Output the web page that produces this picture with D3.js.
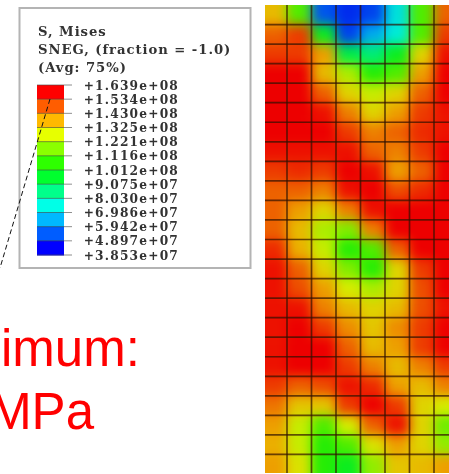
<!DOCTYPE html>
<html>
<head>
<meta charset="utf-8">
<script src="https://cdn.jsdelivr.net/npm/d3@7"></script>
<style>
  html, body { margin: 0; padding: 0; background: #fff; overflow: hidden; }
  svg { display: block; }
</style>
</head>
<body>
<svg id="chart"></svg>
<script>
var width = 449;
var height = 474;

// legend, MPa, top to bottom
var legendTitle = ["S, Mises", "SNEG, (fraction = -1.0)", "(Avg: 75%)"];
var legendLabels = ["+1.639e+08", "+1.534e+08", "+1.430e+08", "+1.325e+08", "+1.221e+08", "+1.116e+08",
  "+1.012e+08", "+9.075e+07", "+8.030e+07", "+6.986e+07", "+5.942e+07", "+4.897e+07", "+3.853e+07"];
var legendColors = ["#ff0000", "#ff5d00", "#ffb900", "#e7ff00", "#8bff00", "#2eff00",
  "#00ff2e", "#00ff8b", "#00ffe7", "#00b9ff", "#005dff", "#0000ff"];
var colorStops = [157, 147, 133, 120, 110, 101, 93, 84, 72, 62, 50, 40];
var annotation = ["imum:", "MPa"];

// stress per mesh element, MPa
var stress = [
  [130, 105, 50, 45, 48, 70, 105, 145],
  [145, 150, 95, 48, 62, 72, 105, 150],
  [150, 150, 135, 90, 85, 95, 125, 155],
  [158, 158, 130, 115, 100, 105, 135, 158],
  [158, 158, 145, 125, 118, 125, 145, 158],
  [160, 160, 155, 140, 125, 135, 150, 155],
  [158, 158, 158, 150, 140, 145, 152, 155],
  [155, 155, 155, 155, 145, 140, 150, 158],
  [150, 152, 150, 158, 155, 135, 145, 158],
  [145, 145, 140, 155, 158, 148, 152, 158],
  [145, 135, 125, 140, 155, 158, 158, 160],
  [145, 130, 115, 110, 140, 158, 160, 160],
  [152, 132, 118, 100, 105, 145, 158, 160],
  [155, 145, 125, 110, 100, 125, 150, 158],
  [155, 148, 135, 120, 115, 125, 148, 158],
  [155, 155, 140, 130, 125, 130, 148, 155],
  [155, 158, 150, 138, 128, 138, 150, 160],
  [155, 158, 158, 145, 130, 135, 150, 158],
  [155, 158, 158, 150, 140, 130, 140, 150],
  [150, 145, 148, 155, 152, 135, 130, 140],
  [142, 128, 128, 150, 158, 150, 125, 120],
  [135, 118, 105, 120, 145, 155, 125, 108],
  [132, 118, 100, 105, 122, 135, 125, 112],
  [135, 122, 100, 95, 112, 128, 130, 135]
];

var svg = d3.select("#chart")
  .attr("width", width)
  .attr("height", height);

var defs = svg.append("defs");

defs.append("filter")
  .attr("id", "smooth")
  .attr("filterUnits", "userSpaceOnUse")
  .attr("x", 200).attr("y", -60).attr("width", 320).attr("height", 600)
  .attr("color-interpolation-filters", "sRGB")
  .append("feGaussianBlur")
  .attr("stdDeviation", 6);

defs.append("filter")
  .attr("id", "soft")
  .attr("x", "-5%").attr("y", "-5%").attr("width", "110%").attr("height", "110%")
  .append("feGaussianBlur")
  .attr("stdDeviation", 0.7);

defs.append("clipPath")
  .attr("id", "meshClip")
  .append("rect")
  .attr("x", 265).attr("y", 5)
  .attr("width", width - 265).attr("height", 468);

// mesh
var meshX = d3.scaleLinear().domain([0, 8]).range([262.5, 458.5]);
var meshY = d3.scaleLinear().domain([0, 24]).range([5, 474]);

var stressColor = d3.scaleLinear()
  .domain(colorStops)
  .range(legendColors)
  .clamp(true);

var mesh = svg.append("g").attr("clip-path", "url(#meshClip)");
var field = mesh.append("g").attr("filter", "url(#smooth)");
var spill = 40; // border cells run past the clip so the blur keeps full colour at the edges

stress.forEach(function(row, r) {
  row.forEach(function(v, c) {
    var x0 = meshX(c) - (c === 0 ? spill : 0);
    var x1 = meshX(c + 1) + (c === row.length - 1 ? spill : 0);
    var y0 = meshY(r) - (r === 0 ? spill : 0);
    var y1 = meshY(r + 1) + (r === stress.length - 1 ? spill : 0);
    field.append("rect")
      .attr("x", x0)
      .attr("y", y0)
      .attr("width", x1 - x0 + 0.5)
      .attr("height", y1 - y0 + 0.5)
      .style("fill", stressColor(v));
  });
});

// the photo is a touch duller than the pure spectrum
mesh.append("rect")
  .attr("x", 265).attr("y", 5)
  .attr("width", width - 265).attr("height", 468)
  .style("fill", "#000")
  .style("fill-opacity", 0.07);

var lines = mesh.append("g")
  .attr("filter", "url(#soft)")
  .style("stroke", "#301000")
  .style("stroke-opacity", 0.7)
  .style("stroke-width", 1.7);

lines.selectAll(".v")
  .data(d3.range(1, 8))
  .enter().append("line")
  .attr("x1", function(d) { return meshX(d); })
  .attr("x2", function(d) { return meshX(d); })
  .attr("y1", meshY(0))
  .attr("y2", meshY(24));

lines.selectAll(".h")
  .data(d3.range(1, 24))
  .enter().append("line")
  .attr("x1", 265)
  .attr("x2", width)
  .attr("y1", function(d) { return meshY(d); })
  .attr("y2", function(d) { return meshY(d); });

// legend
var legend = svg.append("g");

legend.append("rect")
  .attr("x", 19.5)
  .attr("y", 8)
  .attr("width", 231)
  .attr("height", 260)
  .style("fill", "#fff")
  .style("stroke", "#b4b4b4")
  .style("stroke-width", 2);

var soft = legend.append("g").attr("filter", "url(#soft)");

soft.selectAll(".title")
  .data(legendTitle)
  .enter().append("text")
  .attr("x", 38)
  .attr("y", function(d, i) { return 36 + i * 18; })
  .style("font-family", "'DejaVu Serif'")
  .style("font-weight", "bold")
  .style("font-size", "13.2px")
  .style("letter-spacing", "0.95px")
  .style("fill", "#333")
  .text(function(d) { return d; });

var legendY = d3.scaleLinear().domain([0, 12]).range([85, 255]);

soft.selectAll(".band")
  .data(legendColors)
  .enter().append("rect")
  .attr("x", 37)
  .attr("y", function(d, i) { return legendY(i); })
  .attr("width", 27)
  .attr("height", legendY(1) - legendY(0) + 0.5)
  .style("fill", function(d) { return d; });

soft.selectAll(".tick")
  .data(legendLabels)
  .enter().append("line")
  .attr("x1", 37)
  .attr("x2", 72)
  .attr("y1", function(d, i) { return legendY(i); })
  .attr("y2", function(d, i) { return legendY(i); })
  .style("stroke", "#444")
  .style("stroke-opacity", 0.6)
  .style("stroke-width", 1);

soft.selectAll(".label")
  .data(legendLabels)
  .enter().append("text")
  .attr("x", 179)
  .attr("y", function(d, i) { return legendY(i) + 4.5; })
  .attr("text-anchor", "end")
  .style("font-family", "'DejaVu Serif'")
  .style("font-weight", "bold")
  .style("font-size", "12.2px")
  .style("letter-spacing", "1.2px")
  .style("fill", "#333")
  .text(function(d) { return d; });

// leader from the annotation into the legend
svg.append("line")
  .attr("x1", 50)
  .attr("y1", 99)
  .attr("x2", 0)
  .attr("y2", 268)
  .style("stroke", "#111")
  .style("stroke-width", 1)
  .style("stroke-dasharray", "5,3");

svg.append("text")
  .attr("x", 1)
  .attr("y", 366)
  .style("font-family", "'Liberation Sans'")
  .style("font-size", "51px")
  .style("fill", "#ff0000")
  .text(annotation[0]);

svg.append("text")
  .attr("x", 94)
  .attr("y", 429)
  .attr("text-anchor", "end")
  .style("font-family", "'Liberation Sans'")
  .style("font-size", "51px")
  .style("fill", "#ff0000")
  .text(annotation[1]);
</script>
</body>
</html>
